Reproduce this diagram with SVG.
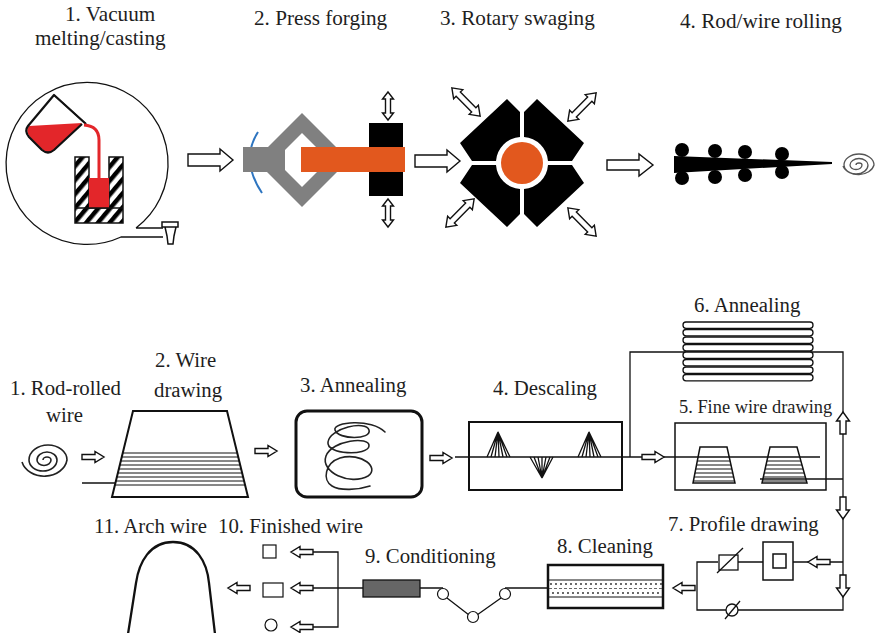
<svg xmlns="http://www.w3.org/2000/svg" width="879" height="633" viewBox="0 0 879 633">
  <style>
    text { font-family: "Liberation Serif", "DejaVu Serif", "Times New Roman", serif; font-size: 20.8px; fill: #1e1e1e; }
    text.top { font-size: 21.2px; }
    text.fine { font-size: 18.4px; }
    .ln { fill: none; stroke: #111; stroke-width: 1.3; }
    .hollow { fill: #fff; stroke: #111; stroke-width: 1.4; stroke-linejoin: miter; }
    .solid { fill: #000; }
    .orange { fill: #e2581e; }
    .scribble { fill: none; stroke: #222; stroke-width: 1.6; stroke-linecap: round; stroke-linejoin: round; }
  </style>
  <defs>
    <pattern id="hatch" width="9" height="9" patternUnits="userSpaceOnUse" patternTransform="rotate(40)">
      <rect x="0" y="0" width="4.5" height="9" fill="#000"/>
    </pattern>
    <!-- small hollow arrow, tail at origin, tip at x=22 -->
    <path id="sa" d="M0,-2.5 H13 V-5.5 L22,0 L13,5.5 V2.5 H0 Z"/>
    <path id="sb" d="M0,-3 H13 V-6.5 L22,0 L13,6.5 V3 H0 Z"/>
    <!-- double-headed hollow arrows centred on origin -->
    <path id="dblS" d="M-14,0 L-7,-5.5 V-2.5 H7 V-5.5 L14,0 L7,5.5 V2.5 H-7 V5.5 Z"/>
    <path id="dblL" d="M-20,0 L-11,-6.5 V-3 H11 V-6.5 L20,0 L11,6.5 V3 H-11 V6.5 Z"/>
    <clipPath id="clipTrap"><path d="M133,411 H227 L248,497 H112 Z"/></clipPath>
    <clipPath id="clipDie1"><path d="M700,447 H727 L735,483 H693 Z"/></clipPath>
    <clipPath id="clipDie2"><path d="M770,447 H797 L807,483 H762 Z"/></clipPath>
  </defs>

  <rect width="879" height="633" fill="#fff"/>

  <!-- ===== Top row: ingot to rod ===== -->
  <g id="top-labels">
    <text class="top" x="65" y="21">1.  Vacuum</text>
    <text class="top" x="35" y="45">melting/casting</text>
    <text class="top" x="254" y="25">2.  Press forging</text>
    <text class="top" x="440" y="25">3.  Rotary swaging</text>
    <text class="top" x="680" y="28">4.  Rod/wire rolling</text>
  </g>

  <g id="vacuum-casting">
    <!-- speech-bubble outline -->
    <path class="ln" d="M136,228 L163,228 M163,237 L121,237 A81,81 0 1 1 136,228" stroke-width="1.5"/>
    <!-- tap -->
    <path d="M162,222 h16 v5 h-16 z M165,227 h11 l-2,9 l-1,8 h-5 l-1,-8 z" fill="#fff" stroke="#111" stroke-width="1.5"/>
    <!-- beaker with melt -->
    <path d="M29,126 L82,123 L55,149 Q49,155 43,150 L30,137 Q25,131 29,126 Z" fill="#e3262a"/>
    <path d="M86,124 L54,95 L28,126 Q24,131 29,137 L42,150 Q48,155 54,150 L82,124" fill="none" stroke="#111" stroke-width="2.2" stroke-linejoin="round"/>
    <path d="M54,95 L86,124" stroke="#111" stroke-width="1.2"/>
    <!-- pour stream -->
    <path d="M84,125 Q99,126 99,140 L99,180" fill="none" stroke="#e3262a" stroke-width="3"/>
    <!-- mould -->
    <path d="M75,157 H89 V208 H109 V157 H123 V223 H75 Z" fill="url(#hatch)" stroke="#111" stroke-width="1.5"/>
    <rect x="89" y="178" width="20" height="30" fill="#e3262a"/>
    <line x1="75" y1="208" x2="123" y2="208" stroke="#111" stroke-width="1.5"/>
  </g>

  <g id="press-forging">
    <path d="M258,132 Q240,160 262,193" fill="none" stroke="#2e75c0" stroke-width="2"/>
    <rect x="243" y="147" width="30" height="25" fill="#808080"/>
    <path d="M302,113 L349,160 L302,207 L255,160 Z M302,133 L285,150 L285,170 L302,187 L329,160 Z" fill="#808080" fill-rule="evenodd"/>
    <rect x="369" y="123" width="34" height="26" class="solid"/>
    <rect x="369" y="172" width="34" height="24" class="solid"/>
    <rect x="301" y="147" width="104" height="25" class="orange"/>
    <use href="#dblS" class="hollow" transform="translate(388,106) rotate(90)"/>
    <use href="#dblS" class="hollow" transform="translate(388,213) rotate(90)"/>
  </g>

  <g id="rotary-swaging">
    <path class="solid" d="M460,143 L507,99 L520,112 L520,137 A26,26 0 0 0 496,161 L472,161 Z"/>
    <path class="solid" d="M584,143 L537,99 L524,112 L524,137 A26,26 0 0 1 548,161 L572,161 Z"/>
    <path class="solid" d="M460,183 L507,227 L520,214 L520,189 A26,26 0 0 1 496,165 L472,165 Z"/>
    <path class="solid" d="M584,183 L537,227 L524,214 L524,189 A26,26 0 0 0 548,165 L572,165 Z"/>
    <circle cx="522" cy="163" r="21" class="orange"/>
    <use href="#dblL" class="hollow" transform="translate(466,102) rotate(45)"/>
    <use href="#dblL" class="hollow" transform="translate(582,107) rotate(-45)"/>
    <use href="#dblL" class="hollow" transform="translate(460,213) rotate(-45)"/>
    <use href="#dblL" class="hollow" transform="translate(582,222) rotate(45)"/>
  </g>

  <g id="rod-rolling">
    <path class="solid" d="M674,156 L832,162 L832,164 L674,173 Z"/>
    <circle cx="682" cy="150" r="7"/>
    <circle cx="682" cy="178" r="7"/>
    <circle cx="715" cy="151" r="7"/>
    <circle cx="715" cy="177" r="7"/>
    <circle cx="745" cy="152" r="7"/>
    <circle cx="745" cy="175" r="7"/>
    <circle cx="782" cy="154" r="7"/>
    <circle cx="782" cy="172" r="7"/>
    <path d="M856,165 A3,2 0 0 1 862,165 A6,4.5 0 0 1 850,165 A9,6.5 0 0 1 868,165 A12,9 0 0 1 844,165 A15,11 0 0 1 874,165 A16,12 0 0 1 843,166" fill="none" stroke="#555" stroke-width="1.3"/>
  </g>

  <g id="top-arrows">
    <path class="hollow" d="M188,154 H220 V149 L233,160 L220,171 V166 H188 Z"/>
    <path class="hollow" d="M415,155 H447 V150 L460,161 L447,172 V167 H415 Z"/>
    <path class="hollow" d="M607,160 H639 V154 L653,165 L639,176 V170 H607 Z"/>
  </g>

  <!-- ===== Bottom: wire processing line ===== -->
  <g id="connectors">
    <line class="ln" x1="82" y1="483" x2="116" y2="483"/>
    <!-- descaling through to loops -->
    <path class="ln" d="M455,457 H820"/>
    <path class="ln" d="M630,457 V352 H843 V610 H697 V562 H718"/>
    <path class="ln" d="M760,479 H843"/>
    <path class="ln" d="M738,562 H763 M793,562 H843"/>
    <!-- conditioning and finishing -->
    <path class="ln" d="M548,588 H505"/>
    <path class="ln" d="M501,598 L477,615 M469,615 L447,598"/>
    <path class="ln" d="M443,588 H313"/>
    <path class="ln" d="M313,552 H338 V627 H313"/>
    <use href="#sa" class="hollow" transform="translate(82,457)"/>
    <use href="#sa" class="hollow" transform="translate(255,451)"/>
    <use href="#sa" class="hollow" transform="translate(430,458)"/>
    <use href="#sa" class="hollow" transform="translate(642,457)"/>
    <use href="#sb" class="hollow" transform="translate(843,434) rotate(-90)"/>
    <use href="#sb" class="hollow" transform="translate(843,497) rotate(90)"/>
    <use href="#sb" class="hollow" transform="translate(843,575) rotate(90)"/>
    <use href="#sa" class="hollow" transform="translate(830,562) rotate(180)"/>
    <use href="#sa" class="hollow" transform="translate(695,588) rotate(180)"/>
    <use href="#sa" class="hollow" transform="translate(313,552) rotate(180)"/>
    <use href="#sa" class="hollow" transform="translate(313,588) rotate(180)"/>
    <use href="#sa" class="hollow" transform="translate(313,627) rotate(180)"/>
    <use href="#sa" class="hollow" transform="translate(250,588) rotate(180)"/>
  </g>

  <g id="rod-rolled-wire">
    <text x="10" y="395">1.  Rod-rolled</text>
    <text x="46" y="422">wire</text>
    <path d="M43,460 A4,3 0 0 1 51,460 A7,5.5 0 0 1 37,460 A10,8 0 0 1 57,460 A14,11 0 0 1 29,460 A19,15 0 0 1 67,460 A23,19 0 0 1 22,462" fill="none" stroke="#222" stroke-width="1.6"/>
  </g>

  <g id="wire-drawing">
    <text x="155" y="367">2.  Wire</text>
    <text x="154" y="397">drawing</text>
    <g clip-path="url(#clipTrap)" stroke="#111" stroke-width="1">
      <line x1="100" y1="453" x2="260" y2="453"/>
      <line x1="100" y1="457" x2="260" y2="457"/>
      <line x1="100" y1="461" x2="260" y2="461"/>
      <line x1="100" y1="465" x2="260" y2="465"/>
      <line x1="100" y1="469" x2="260" y2="469"/>
      <line x1="100" y1="473" x2="260" y2="473"/>
      <line x1="100" y1="477" x2="260" y2="477"/>
      <line x1="100" y1="481" x2="260" y2="481"/>
      <line x1="100" y1="485" x2="260" y2="485"/>
    </g>
    <path d="M133,411 H227 L248,497 H112 Z" fill="none" stroke="#111" stroke-width="2"/>
  </g>

  <g id="annealing-1">
    <text x="300" y="392">3. Annealing</text>
    <rect x="296" y="411" width="126" height="86" rx="11" fill="none" stroke="#111" stroke-width="3"/>
    <path class="scribble" d="M385,432 C372,418 332,422 335,430 C338,440 372,440 369,430 C366,420 330,428 328,442 C326,455 368,456 369,446 C370,436 332,440 326,456 C320,472 350,486 368,476 C380,468 362,452 340,458 C325,463 322,480 332,486 C340,491 358,490 370,486"/>
  </g>

  <g id="descaling">
    <text x="493" y="395">4. Descaling</text>
    <rect x="469" y="422" width="153" height="68" fill="none" stroke="#111" stroke-width="2"/>
    <path class="ln" stroke-width="1" d="M498,432 L487,457 M498,432 L491,457 M498,432 L495,457 M498,432 L499,457 M498,432 L503,457 M498,432 L507,457 M498,432 L510,457"/>
    <path class="ln" stroke-width="1" d="M542,478 L530,457 M542,478 L534,457 M542,478 L538,457 M542,478 L542,457 M542,478 L546,457 M542,478 L550,457 M542,478 L553,457"/>
    <path class="ln" stroke-width="1" d="M589,432 L578,457 M589,432 L582,457 M589,432 L586,457 M589,432 L590,457 M589,432 L594,457 M589,432 L598,457 M589,432 L601,457"/>
  </g>

  <g id="annealing-2">
    <text x="694" y="312">6. Annealing</text>
    <g fill="#fff" stroke="#111" stroke-width="1.3">
      <rect x="683" y="322" width="130" height="6.3" rx="3"/>
      <rect x="683" y="329.5" width="130" height="6.3" rx="3"/>
      <rect x="683" y="337" width="130" height="6.3" rx="3"/>
      <rect x="683" y="344.5" width="130" height="6.3" rx="3"/>
      <rect x="683" y="352" width="130" height="6.3" rx="3"/>
      <rect x="683" y="359.5" width="130" height="6.3" rx="3"/>
      <rect x="683" y="367" width="130" height="6.3" rx="3"/>
      <rect x="683" y="374.5" width="130" height="6.3" rx="3"/>
    </g>
  </g>

  <g id="fine-wire-drawing">
    <text class="fine" x="679" y="413">5. Fine wire drawing</text>
    <rect x="675" y="423" width="151" height="67" fill="none" stroke="#111" stroke-width="1.5"/>
    <g stroke="#111" stroke-width="1">
      <g clip-path="url(#clipDie1)">
        <line x1="680" y1="461" x2="750" y2="461"/>
        <line x1="680" y1="465" x2="750" y2="465"/>
        <line x1="680" y1="469" x2="750" y2="469"/>
        <line x1="680" y1="473" x2="750" y2="473"/>
        <line x1="680" y1="477" x2="750" y2="477"/>
        <line x1="680" y1="481" x2="750" y2="481"/>
      </g>
      <g clip-path="url(#clipDie2)">
        <line x1="750" y1="461" x2="820" y2="461"/>
        <line x1="750" y1="465" x2="820" y2="465"/>
        <line x1="750" y1="469" x2="820" y2="469"/>
        <line x1="750" y1="473" x2="820" y2="473"/>
        <line x1="750" y1="477" x2="820" y2="477"/>
        <line x1="750" y1="481" x2="820" y2="481"/>
      </g>
    </g>
    <path d="M700,447 H727 L735,483 H693 Z M770,447 H797 L807,483 H762 Z" fill="none" stroke="#111" stroke-width="1.5"/>
  </g>

  <g id="profile-drawing">
    <text x="668" y="531">7. Profile drawing</text>
    <rect x="763" y="542" width="30" height="38" fill="#fff" stroke="#111" stroke-width="1.5"/>
    <rect x="773" y="554" width="13" height="14" fill="none" stroke="#111" stroke-width="1.5"/>
    <rect x="719" y="555" width="19" height="15" fill="#fff" stroke="#111" stroke-width="1.3"/>
    <line x1="717" y1="573" x2="743" y2="548" stroke="#111" stroke-width="1.3"/>
    <circle cx="732" cy="610" r="6" fill="#fff" stroke="#111" stroke-width="1.3"/>
    <line x1="725" y1="619" x2="740" y2="601" stroke="#111" stroke-width="1.3"/>
  </g>

  <g id="cleaning">
    <text x="557" y="553">8. Cleaning</text>
    <rect x="548" y="565" width="115" height="43" fill="#fff" stroke="#111" stroke-width="2.5"/>
    <line x1="549" y1="580" x2="662" y2="580" stroke="#111" stroke-width="1"/>
    <line x1="549" y1="597" x2="662" y2="597" stroke="#111" stroke-width="1"/>
    <line x1="551" y1="584" x2="662" y2="584" stroke="#222" stroke-width="1.8" stroke-linecap="round" stroke-dasharray="0 5"/>
    <line x1="553" y1="593" x2="662" y2="593" stroke="#222" stroke-width="1.8" stroke-linecap="round" stroke-dasharray="0 5"/>
    <line x1="549" y1="588.5" x2="662" y2="588.5" stroke="#444" stroke-width="0.8" stroke-dasharray="3 2"/>
  </g>

  <g id="conditioning">
    <text x="365" y="563">9. Conditioning</text>
    <rect x="363" y="580" width="57" height="17" fill="#666" stroke="#111" stroke-width="1.3"/>
    <circle cx="443" cy="594" r="5.5" fill="#fff" stroke="#111" stroke-width="1.2"/>
    <circle cx="473" cy="617" r="5.5" fill="#fff" stroke="#111" stroke-width="1.2"/>
    <circle cx="505" cy="594" r="5.5" fill="#fff" stroke="#111" stroke-width="1.2"/>
  </g>

  <g id="finished-wire">
    <text x="218" y="533">10. Finished wire</text>
    <rect x="263" y="545" width="13" height="13" fill="#fff" stroke="#111" stroke-width="1.2"/>
    <rect x="263" y="583" width="20" height="14" fill="#fff" stroke="#111" stroke-width="1.2"/>
    <circle cx="271" cy="625" r="6" fill="#fff" stroke="#111" stroke-width="1.2"/>
  </g>

  <g id="arch-wire">
    <text x="94" y="533">11. Arch wire</text>
    <path d="M128,634 L136,583 C139,562 150,542 173,542 C196,542 207,562 209,583 L215,634" fill="none" stroke="#111" stroke-width="2.3"/>
  </g>
</svg>
